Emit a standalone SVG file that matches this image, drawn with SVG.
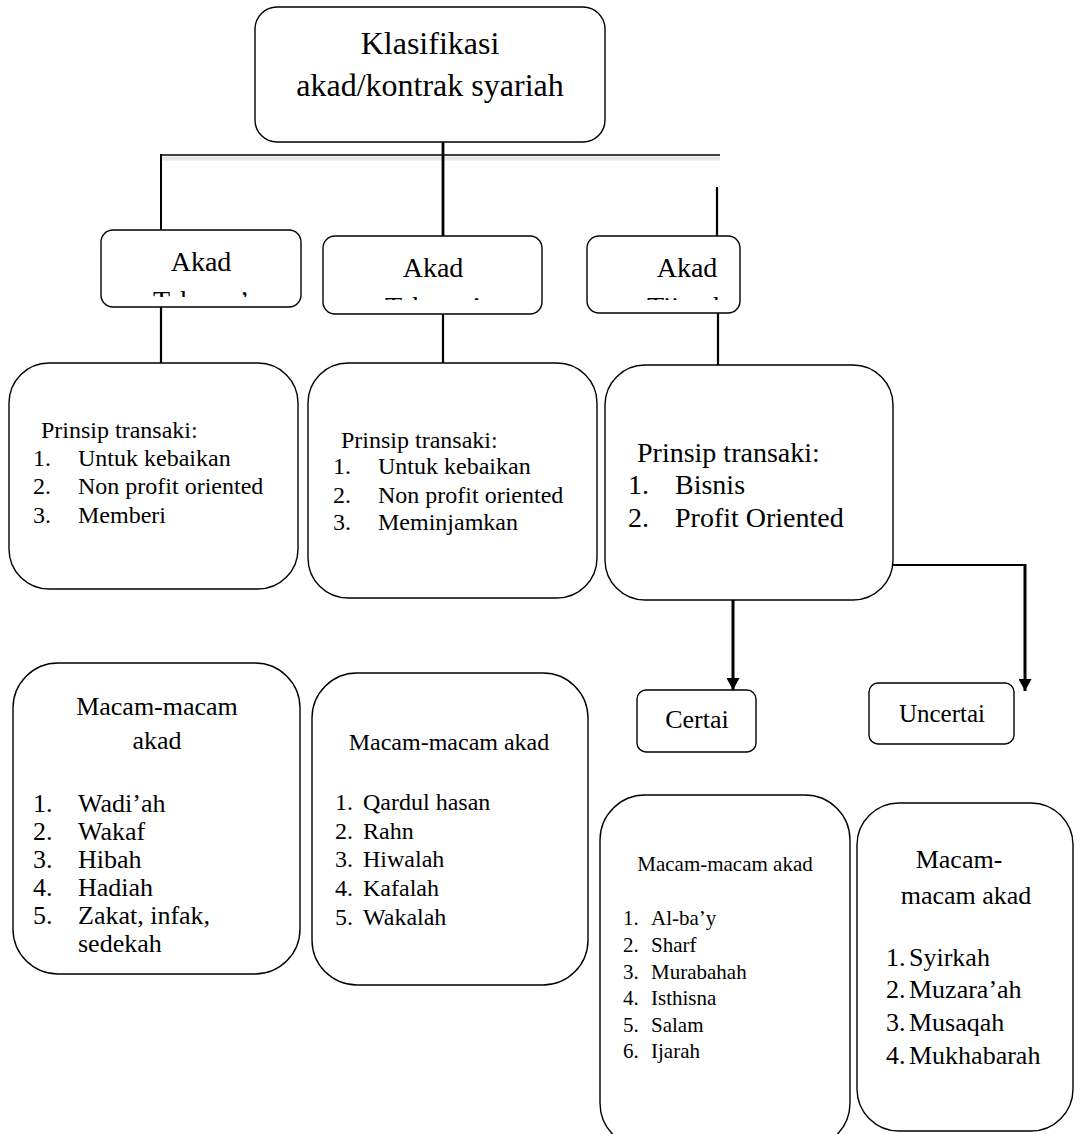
<svg xmlns="http://www.w3.org/2000/svg" width="1080" height="1134" viewBox="0 0 1080 1134" font-family="'Liberation Serif', 'Times New Roman', Tinos, 'DejaVu Serif', serif">
<defs>
<style>
.box{fill:#fff;stroke:#000;stroke-width:1.4}
text{font-family:'Liberation Serif','Times New Roman',Tinos,'DejaVu Serif',serif;fill:#000}
.c{stroke:#000;fill:none}
.mid{text-anchor:middle}
</style>
<marker id="arr" viewBox="0 0 12 13" refX="12" refY="6.5" markerWidth="12" markerHeight="13" markerUnits="userSpaceOnUse" orient="auto">
<path d="M0,0 L12,6.5 L0,13 z" fill="#000"/>
</marker>
<clipPath id="clip1"><rect x="101" y="230" width="200" height="67"/></clipPath>
<clipPath id="clip2"><rect x="323" y="236" width="219" height="64"/></clipPath>
<clipPath id="clip3"><rect x="587" y="236" width="135" height="64"/></clipPath>
</defs>
<rect x="0" y="0" width="1080" height="1134" fill="#fff"/>

<g id="connectors">
<line x1="162" y1="158.5" x2="720" y2="158.5" stroke="#e6e6e6" stroke-width="4"/>
<line class="c" x1="160" y1="155" x2="720" y2="155" stroke-width="1.6"/>
<line class="c" x1="161" y1="154" x2="161" y2="230" stroke-width="2"/>
<line class="c" x1="443" y1="142" x2="443" y2="237" stroke-width="2.8"/>
<line class="c" x1="717" y1="187" x2="717" y2="236" stroke-width="2.2"/>
<line class="c" x1="161" y1="307" x2="161" y2="363" stroke-width="2.2"/>
<line class="c" x1="443" y1="314" x2="443" y2="363" stroke-width="2.2"/>
<line class="c" x1="718" y1="313" x2="718" y2="365" stroke-width="2.2"/>
<line class="c" x1="733" y1="600" x2="733" y2="690" stroke-width="3" marker-end="url(#arr)"/>
<line class="c" x1="893" y1="565" x2="1026" y2="565" stroke-width="2"/>
<line class="c" x1="1025" y1="564" x2="1025" y2="691" stroke-width="3" marker-end="url(#arr)"/>
</g>

<g id="root">
<rect class="box" x="255" y="7" width="350" height="135" rx="22"/>
<text class="mid" x="430" y="54" font-size="32">Klasifikasi</text>
<text class="mid" x="430" y="96" font-size="32">akad/kontrak syariah</text>
</g>

<g id="akad-tabarru-1">
<rect class="box" x="101" y="230" width="200" height="77" rx="12"/>
<text class="mid" x="201" y="271" font-size="28">Akad</text>
<text class="mid" x="201" y="310" font-size="28" clip-path="url(#clip1)">Tabarru’</text>
</g>

<g id="akad-tabarru-2">
<rect class="box" x="323" y="236" width="219" height="78" rx="12"/>
<text class="mid" x="433" y="277" font-size="28">Akad</text>
<text class="mid" x="433" y="316" font-size="28" clip-path="url(#clip2)">Tabarru’</text>
</g>

<g id="akad-tijarah">
<rect class="box" x="587" y="236" width="153" height="77" rx="12"/>
<text class="mid" x="687" y="277" font-size="28">Akad</text>
<text class="mid" x="687" y="316" font-size="28" clip-path="url(#clip3)">Tijarah</text>
</g>

<g id="prinsip-1" font-size="24">
<rect class="box" x="9" y="363" width="289" height="226" rx="40"/>
<text x="41" y="438">Prinsip transaki:</text>
<text x="33" y="466">1.</text><text x="78" y="466">Untuk kebaikan</text>
<text x="33" y="494">2.</text><text x="78" y="494">Non profit oriented</text>
<text x="33" y="523">3.</text><text x="78" y="523">Memberi</text>
</g>

<g id="prinsip-2" font-size="24">
<rect class="box" x="308" y="363" width="289" height="235" rx="40"/>
<text x="341" y="448">Prinsip transaki:</text>
<text x="333" y="474">1.</text><text x="378" y="474">Untuk kebaikan</text>
<text x="333" y="503">2.</text><text x="378" y="503">Non profit oriented</text>
<text x="333" y="530">3.</text><text x="378" y="530">Meminjamkan</text>
</g>

<g id="prinsip-3" font-size="28">
<rect class="box" x="605" y="365" width="288" height="235" rx="40"/>
<text x="637" y="462">Prinsip transaki:</text>
<text x="628" y="494">1.</text><text x="675" y="494">Bisnis</text>
<text x="628" y="527">2.</text><text x="675" y="527">Profit Oriented</text>
</g>

<g id="certain">
<rect class="box" x="637" y="690" width="119" height="62" rx="9"/>
<text class="mid" x="697" y="728" font-size="26">Certai</text>
</g>

<g id="uncertain">
<rect class="box" x="869" y="683" width="145" height="61" rx="9"/>
<text class="mid" x="942" y="722" font-size="25">Uncertai</text>
</g>

<g id="macam-1" font-size="26">
<rect class="box" x="13" y="663" width="287" height="311" rx="45"/>
<text class="mid" x="157" y="715">Macam-macam</text>
<text class="mid" x="157" y="749">akad</text>
<text x="33" y="812">1.</text><text x="78" y="812">Wadi’ah</text>
<text x="33" y="840">2.</text><text x="78" y="840">Wakaf</text>
<text x="33" y="868">3.</text><text x="78" y="868">Hibah</text>
<text x="33" y="896">4.</text><text x="78" y="896">Hadiah</text>
<text x="33" y="924">5.</text><text x="78" y="924">Zakat, infak,</text>
<text x="78" y="952">sedekah</text>
</g>

<g id="macam-2" font-size="24">
<rect class="box" x="312" y="673" width="276" height="312" rx="45"/>
<text class="mid" x="449" y="750">Macam-macam akad</text>
<text x="335" y="810">1.</text><text x="363" y="810">Qardul hasan</text>
<text x="335" y="839">2.</text><text x="363" y="839">Rahn</text>
<text x="335" y="867">3.</text><text x="363" y="867">Hiwalah</text>
<text x="335" y="896">4.</text><text x="363" y="896">Kafalah</text>
<text x="335" y="925">5.</text><text x="363" y="925">Wakalah</text>
</g>

<g id="macam-3" font-size="21">
<rect class="box" x="600" y="795" width="250" height="353" rx="45"/>
<text class="mid" x="725" y="871">Macam-macam akad</text>
<text x="623" y="925">1.</text><text x="651" y="925">Al-ba’y</text>
<text x="623" y="952">2.</text><text x="651" y="952">Sharf</text>
<text x="623" y="979">3.</text><text x="651" y="979">Murabahah</text>
<text x="623" y="1005">4.</text><text x="651" y="1005">Isthisna</text>
<text x="623" y="1032">5.</text><text x="651" y="1032">Salam</text>
<text x="623" y="1058">6.</text><text x="651" y="1058">Ijarah</text>
</g>

<g id="macam-4" font-size="26">
<rect class="box" x="857" y="803" width="216" height="328" rx="42"/>
<text class="mid" x="959" y="868">Macam-</text>
<text class="mid" x="966" y="904">macam akad</text>
<text x="886" y="966">1.</text><text x="909" y="966">Syirkah</text>
<text x="886" y="998">2.</text><text x="909" y="998">Muzara’ah</text>
<text x="886" y="1031">3.</text><text x="909" y="1031">Musaqah</text>
<text x="886" y="1064">4.</text><text x="909" y="1064">Mukhabarah</text>
</g>
</svg>
